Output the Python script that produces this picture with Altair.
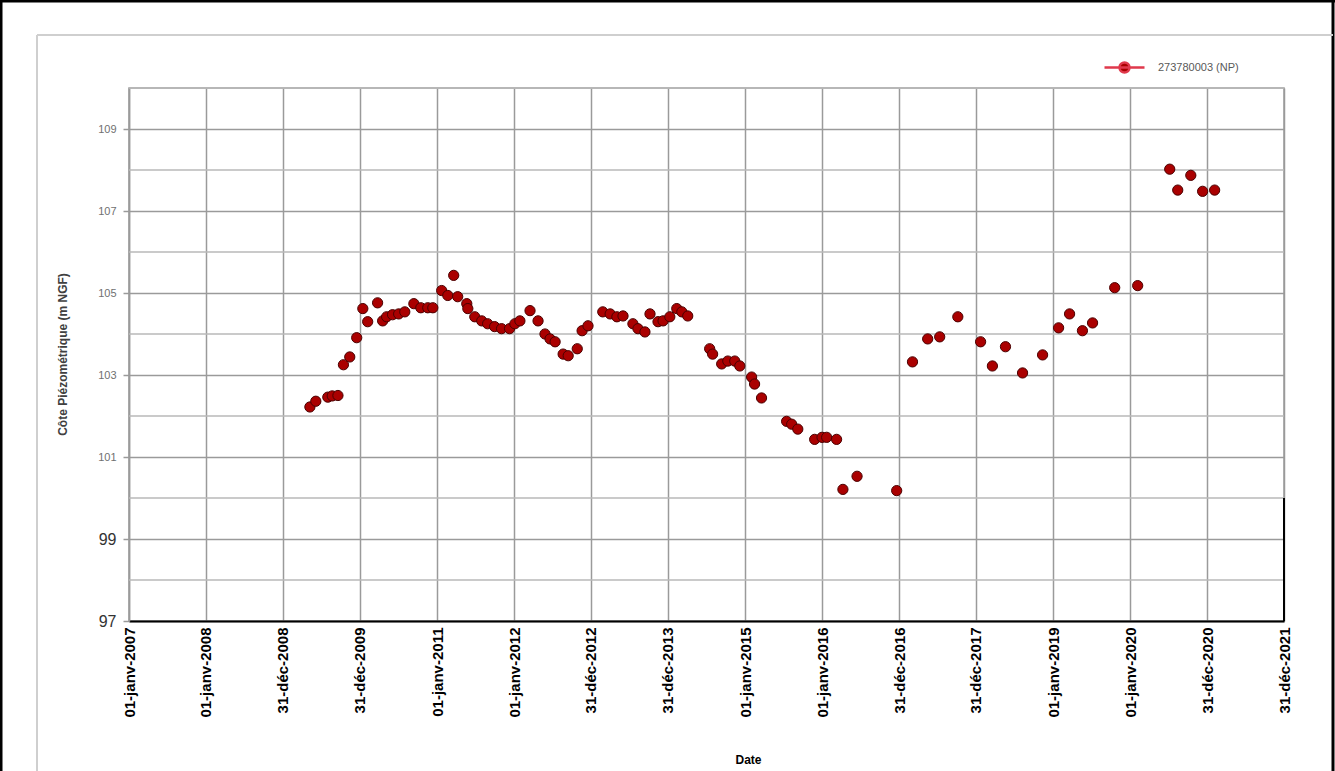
import altair as alt
import pandas as pd

# Piezometric level readings (m NGF) for well 273780003
obs_dates = [
    "2009-05-08", "2009-06-05", "2009-08-01", "2009-08-22", "2009-09-18", "2009-10-14", "2009-11-13", "2009-12-16",
    "2010-01-14", "2010-02-06", "2010-03-25", "2010-04-18", "2010-05-07", "2010-06-04", "2010-07-03", "2010-08-01",
    "2010-09-13", "2010-10-16", "2010-11-18", "2010-12-12",
    "2011-01-23", "2011-02-21", "2011-03-21", "2011-04-09", "2011-05-22", "2011-05-27", "2011-06-29", "2011-08-01",
    "2011-08-29", "2011-10-01", "2011-11-03", "2011-12-11",
    "2012-01-05", "2012-01-29", "2012-03-17", "2012-04-24", "2012-05-27", "2012-06-20", "2012-07-14", "2012-08-21",
    "2012-09-14", "2012-10-27", "2012-11-19", "2012-12-17",
    "2013-02-25", "2013-04-01", "2013-05-03", "2013-06-01", "2013-07-18", "2013-08-11", "2013-09-13", "2013-10-07",
    "2013-11-14", "2013-12-08",
    "2014-01-09", "2014-02-11", "2014-03-07", "2014-04-04", "2014-07-17", "2014-07-31", "2014-09-12", "2014-10-11",
    "2014-11-13", "2014-12-07",
    "2015-02-01", "2015-02-15", "2015-03-20", "2015-07-17", "2015-08-10", "2015-09-08", "2015-11-27",
    "2016-01-01", "2016-01-23", "2016-03-10", "2016-04-09", "2016-06-15", "2016-12-20",
    "2017-03-05", "2017-05-16", "2017-07-12", "2017-10-06",
    "2018-01-22", "2018-03-19", "2018-05-20", "2018-08-09", "2018-11-12",
    "2019-01-27", "2019-03-20", "2019-05-20", "2019-07-07", "2019-10-20",
    "2020-02-06", "2020-07-07", "2020-08-14", "2020-10-15", "2020-12-10",
    "2021-02-05",
]
obs_levels = [
    102.22, 102.36, 102.46, 102.49, 102.50, 103.25, 103.44, 103.91,
    104.62, 104.30, 104.76, 104.32, 104.42, 104.47, 104.49, 104.54, 104.74, 104.64, 104.64, 104.64,
    105.06, 104.94, 105.43, 104.91, 104.74, 104.62, 104.42, 104.32, 104.25, 104.18, 104.13, 104.13,
    104.25, 104.32, 104.57, 104.32, 104.00, 103.88, 103.81, 103.51, 103.47, 103.64, 104.08, 104.20,
    104.54, 104.49, 104.42, 104.44, 104.25, 104.13, 104.05, 104.49, 104.30, 104.32,
    104.42, 104.62, 104.54, 104.44, 103.64, 103.51, 103.27, 103.34, 103.34, 103.22,
    102.95, 102.78, 102.44, 101.87, 101.80, 101.68, 101.43,
    101.48, 101.48, 101.43, 100.21, 100.53, 100.18,
    103.32, 103.88, 103.93, 104.42,
    103.81, 103.22, 103.69, 103.05, 103.49,
    104.15, 104.49, 104.08, 104.27, 105.13,
    105.18, 108.02, 107.51, 107.87, 107.48,
    107.51,
]
series_name = "273780003 (NP)"

# Date axis ticks and their French labels
tick_dates = [
    "2007-01-01", "2008-01-01", "2008-12-31", "2009-12-31", "2011-01-01", "2012-01-01",
    "2012-12-31", "2013-12-31", "2015-01-01", "2016-01-01", "2016-12-31", "2017-12-31",
    "2019-01-01", "2020-01-01", "2020-12-31", "2021-12-31",
]
tick_labels = [
    "01-janv-2007", "01-janv-2008", "31-déc-2008", "31-déc-2009", "01-janv-2011", "01-janv-2012",
    "31-déc-2012", "31-déc-2013", "01-janv-2015", "01-janv-2016", "31-déc-2016", "31-déc-2017",
    "01-janv-2019", "01-janv-2020", "31-déc-2020", "31-déc-2021",
]
y_major = [97, 99, 101, 103, 105, 107, 109]
y_minor = [98, 100, 102, 104, 106, 108, 110]
y_domain = [97, 110]


def to_ms(d):
    return int(pd.Timestamp(d, tz="UTC").value // 1_000_000)


tick_ms = [to_ms(d) for d in tick_dates]
x_domain = [tick_ms[0], tick_ms[-1]]

label_expr = (
    "[" + ",".join(f"'{l}'" for l in tick_labels) + "]"
    "[indexof([" + ",".join(f"'{d}'" for d in tick_dates) + "], utcFormat(datum.value, '%Y-%m-%d'))]"
)

W, H = 1155, 533

df = pd.DataFrame({"date": obs_dates, "level": obs_levels, "serie": series_name})
minor_df = pd.DataFrame({"level": y_minor})
one = pd.DataFrame({"k": [0]})

x_enc = alt.X(
    "date:T",
    scale=alt.Scale(type="utc", domain=x_domain),
    axis=alt.Axis(
        values=tick_ms,
        labelExpr=label_expr,
        labelAngle=270,
        labelAlign="right",
        labelBaseline="middle",
        labelFont="Liberation Sans",
        labelFontWeight="bold",
        labelFontSize=15,
        labelColor="#000000",
        labelPadding=6,
        labelOverlap=False,
        ticks=False,
        grid=True,
        gridColor="#9a9a9a",
        gridWidth=1.5,
        domainColor="#000000",
        domainWidth=2,
        title="Date",
        titleFont="Liberation Sans",
        titleFontWeight="bold",
        titleFontSize=12,
        titleColor="#000000",
        titleX=619,
        titleY=138,
        titleAnchor="start",
        titleAlign="center",
        titleBaseline="middle",
    ),
)

y_axis = alt.Axis(
    values=y_major,
    labelFont="Liberation Sans",
    labelFontSize={"condition": {"test": "datum.value < 100", "value": 16}, "value": 11},
    labelColor={"condition": {"test": "datum.value < 100", "value": "#333333"}, "value": "#707070"},
    labelPadding=7,
    tickSize=6,
    tickColor="#9a9a9a",
    tickWidth=1.5,
    grid=True,
    gridColor="#9a9a9a",
    gridWidth=1.5,
    domainColor="#9a9a9a",
    domainWidth=1.5,
    title="Côte Piézométrique (m NGF)",
    titleFont="Liberation Sans",
    titleFontWeight="bold",
    titleFontSize=12,
    titleColor="#404040",
    titleAngle=270,
    titleX=-67,
    titleY=266,
    titleAlign="center",
    titleBaseline="middle",
)
y_scale = alt.Scale(domain=y_domain, nice=False, zero=False)

# lighter gridlines at even levels
minor_grid = (
    alt.Chart(minor_df)
    .mark_rule(color="#b8b8b8", strokeWidth=1.5)
    .encode(y=alt.Y("level:Q", scale=y_scale, axis=y_axis))
)

legend_symbol = "M-4,0L4,0M-1,0A1,1,0,1,1,1,0A1,1,0,1,1,-1,0Z"

points = (
    alt.Chart(df)
    .mark_circle(size=105, opacity=1, stroke="#4a0000", strokeWidth=1)
    .encode(
        x=x_enc,
        y=alt.Y("level:Q", scale=y_scale, axis=y_axis),
        color=alt.Color(
            "serie:N",
            scale=alt.Scale(range=["#aa0000"]),
            legend=alt.Legend(
                orient="none",
                legendX=989,
                legendY=-27,
                title=None,
                padding=0,
                symbolType=legend_symbol,
                symbolSize=100,
                symbolStrokeColor="#e0394c",
                symbolStrokeWidth=2.5,
                labelFont="Liberation Sans",
                labelFontSize=11,
                labelColor="#595959",
                labelOffset=27,
            ),
        ),
    )
)


# chart frame lines
def hline(x1, x2, y, color, width):
    return alt.Chart(one).mark_rule(color=color, strokeWidth=width).encode(
        x=alt.value(x1), x2=alt.value(x2), y=alt.value(y)
    )


def vline(x, y1, y2, color, width):
    return alt.Chart(one).mark_rule(color=color, strokeWidth=width).encode(
        x=alt.value(x), y=alt.value(y1), y2=alt.value(y2)
    )


frame = (
    hline(-129, 1206, -87, "#000000", 3)
    + vline(-128, -88, 683, "#000000", 3)
    + vline(1204, -88, 683, "#000000", 3)
    + hline(-92, 1204, -53, "#cfcfcf", 2)
    + vline(-92, -53, 683, "#cfcfcf", 2)
    + vline(W, 410, H, "#000000", 2)
)

chart = (
    alt.layer(minor_grid, points, frame)
    .properties(
        width=W,
        height=H,
        padding={"left": 129, "top": 88, "right": 51, "bottom": 150},
        autosize=alt.AutoSizeParams(type="none"),
        background="#ffffff",
    )
    .configure_view(stroke="#9a9a9a", strokeWidth=1.5)
)

chart.save("out.html", embed_options={"renderer": "svg", "actions": False})
